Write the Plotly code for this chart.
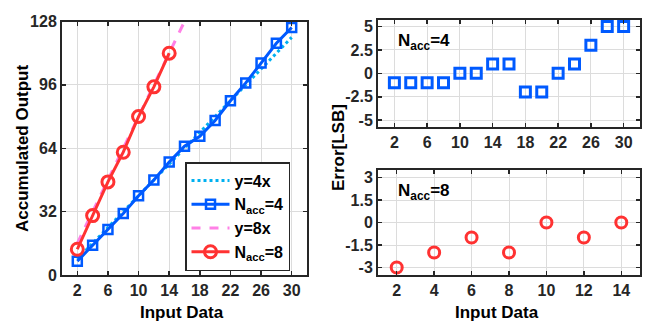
import plotly.graph_objects as go

# ---- data ----
x_n4 = [2, 4, 6, 8, 10, 12, 14, 16, 18, 20, 22, 24, 26, 28, 30]
out_n4 = [7, 15, 23, 31, 40, 48, 57, 65, 70, 78, 88, 97, 107, 117, 125]
err_n4 = [-1, -1, -1, -1, 0, 0, 1, 1, -2, -2, 0, 1, 3, 5, 5]

x_n8 = [2, 4, 6, 8, 10, 12, 14]
out_n8 = [13, 30, 47, 62, 80, 95, 112]
err_n8 = [-3, -2, -1, -2, 0, -1, 0]

ideal4_x = [2, 30]
ideal4_y = [8, 120]
ideal8_x = [2, 16]
ideal8_y = [16, 128]

left_xticks = [2, 6, 10, 14, 18, 22, 26, 30]
left_yticks = [0, 32, 64, 96, 128]
rt_yticks = [-5, -2.5, 0, 2.5, 5]
rb_xticks = [2, 4, 6, 8, 10, 12, 14]
rb_yticks = [-3, -1.5, 0, 1.5, 3]

BLUE = "rgb(0,90,255)"
RED = "rgb(255,50,50)"
CYAN = "rgb(0,176,240)"
PINK = "rgb(255,128,230)"
FONT = "Liberation Sans, Arial, sans-serif"
AX = "#262626"
GRID = "#dcdcdc"

fig = go.Figure()

fig.add_trace(go.Scatter(x=ideal4_x, y=ideal4_y, mode="lines", name="y=4x",
                         line=dict(color=CYAN, width=3, dash="dot"),
                         xaxis="x", yaxis="y"))
fig.add_trace(go.Scatter(x=x_n4, y=out_n4, mode="lines+markers", name="N<sub>acc</sub>=4",
                         line=dict(color=BLUE, width=3),
                         marker=dict(symbol="square-open", size=9, color=BLUE, line=dict(width=2.5)),
                         xaxis="x", yaxis="y"))
fig.add_trace(go.Scatter(x=ideal8_x, y=ideal8_y, mode="lines", name="y=8x",
                         line=dict(color=PINK, width=3, dash="dash"),
                         xaxis="x", yaxis="y"))
fig.add_trace(go.Scatter(x=x_n8, y=out_n8, mode="lines+markers", name="N<sub>acc</sub>=8",
                         line=dict(color=RED, width=3),
                         marker=dict(symbol="circle-open", size=12, color=RED, line=dict(width=3)),
                         xaxis="x", yaxis="y"))

fig.add_trace(go.Scatter(x=x_n4, y=err_n4, mode="markers", showlegend=False,
                         marker=dict(symbol="square-open", size=10, color=BLUE, line=dict(width=3)),
                         xaxis="x2", yaxis="y2"))
fig.add_trace(go.Scatter(x=x_n8, y=err_n8, mode="markers", showlegend=False,
                         marker=dict(symbol="circle-open", size=11, color=RED, line=dict(width=3)),
                         xaxis="x3", yaxis="y3"))

tickfont = dict(family=FONT, size=16, color=AX, weight="bold")
common = dict(showline=True, linecolor=AX, linewidth=2, mirror="ticks",
              ticks="inside", ticklen=4, tickwidth=1.5, tickcolor=AX,
              showgrid=True, gridcolor=GRID, gridwidth=1, zeroline=False,
              tickfont=tickfont, automargin=False, fixedrange=True)

H = 321.0
W = 652.0
def ydom(top_px, bot_px):
    return [(H - bot_px) / H, (H - top_px) / H]
def xdom(l, r):
    return [l / W, r / W]

fig.update_layout(
    width=652, height=321,
    margin=dict(l=0, r=0, t=0, b=0),
    paper_bgcolor="white", plot_bgcolor="white",
    font=dict(family=FONT, size=16, color="black"),
    xaxis=dict(domain=xdom(62, 307), range=[0, 32], tickvals=left_xticks, anchor="y", **common),
    yaxis=dict(domain=ydom(21.5, 275), range=[0, 128], tickvals=left_yticks, anchor="x", **common),
    xaxis2=dict(domain=xdom(378, 640), range=[0, 32], tickvals=left_xticks, anchor="y2", **common),
    yaxis2=dict(domain=ydom(20, 126.7), range=[-5.7, 5.7], tickvals=rt_yticks,
                ticktext=["-5", "-2.5", "0", "2.5", "5"], anchor="x2", **common),
    xaxis3=dict(domain=xdom(378, 640), range=[1, 15], tickvals=rb_xticks, anchor="y3", **common),
    yaxis3=dict(domain=ydom(170, 275), range=[-3.5, 3.5], tickvals=rb_yticks,
                ticktext=["-3", "-1.5", "0", "1.5", "3"], anchor="x3", **common),
    showlegend=True,
    legend=dict(x=185 / W, y=(H - 162) / H, xanchor="left", yanchor="top",
                bgcolor="white", bordercolor=AX, borderwidth=1.5,
                font=dict(family=FONT, size=16, color="black", weight="bold"),
                tracegroupgap=0, itemwidth=38),
)

ann_font = dict(family=FONT, size=17, color="black", weight="bold")
def ann(text, xp, yp, angle=0, xanchor="center"):
    fig.add_annotation(text=text, x=xp / W, y=(H - yp) / H, xref="paper", yref="paper",
                       textangle=angle, showarrow=False, font=ann_font,
                       xanchor=xanchor, yanchor="middle")

ann("Accumulated Output", 22, 148, angle=-90)
ann("Error[LSB]", 338, 148, angle=-90)
ann("Input Data", 182, 312)
ann("Input Data", 497, 312)
ann("N<sub>acc</sub>=4", 396, 42, xanchor="left")
ann("N<sub>acc</sub>=8", 396, 192, xanchor="left")

fig.write_html("out.html",
               config={"displayModeBar": False, "staticPlot": True},
               post_script="document.body.style.margin='0';document.body.style.padding='0';")
